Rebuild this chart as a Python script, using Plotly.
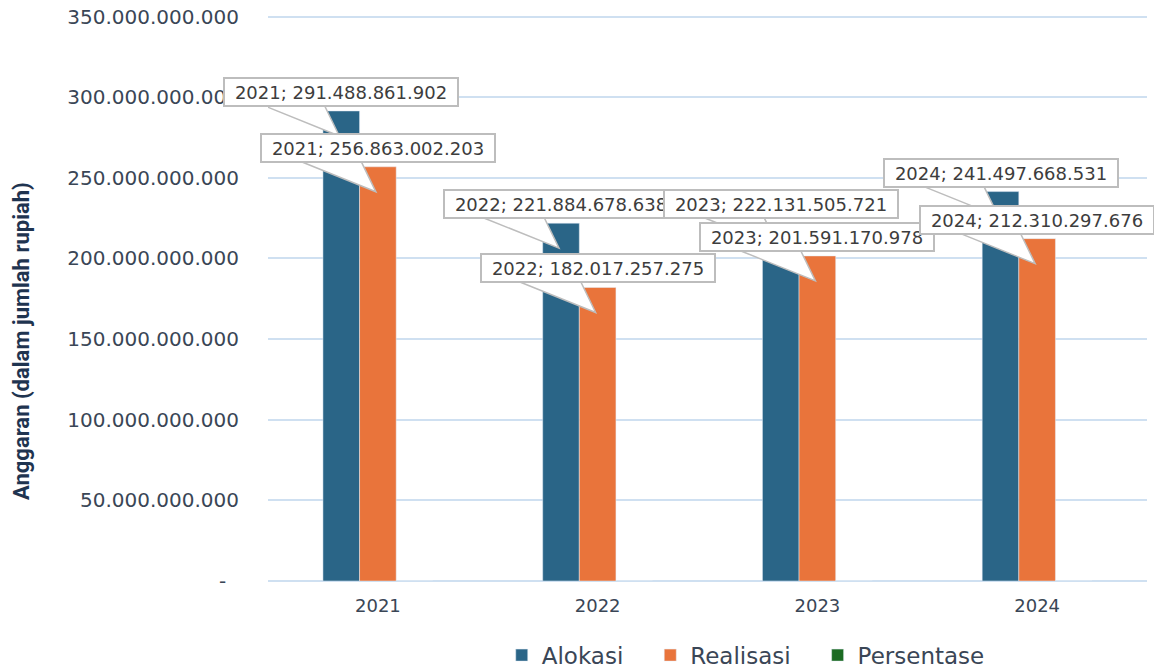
import plotly.graph_objects as go

# data
years = ["2021", "2022", "2023", "2024"]
alokasi = [291488861902, 221884678638, 222131505721, 241497668531]
realisasi = [256863002203, 182017257275, 201591170978, 212310297676]
persentase = [88.12, 82.03, 90.75, 87.91]
tick_vals = [0, 50e9, 100e9, 150e9, 200e9, 250e9, 300e9, 350e9]
tick_text = ["-\u00a0\u00a0", "50.000.000.000", "100.000.000.000", "150.000.000.000",
             "200.000.000.000", "250.000.000.000", "300.000.000.000", "350.000.000.000"]

BLUE = "#2a6587"
ORANGE = "#e9743b"
GREEN = "#1b6b22"
TXT = "#3a4656"
GAP = 0.5
bw = (1 - GAP) / 3  # width of one bar in category units
PAD = "\u00a0\u00a0\u00a0"  # extra room after legend names


def fmt(v):
    return f"{v:,}".replace(",", ".")


fig = go.Figure()
fig.add_trace(go.Bar(x=years, y=alokasi, name="Alokasi" + PAD, marker_color=BLUE))
fig.add_trace(go.Bar(x=years, y=realisasi, name="Realisasi" + PAD, marker_color=ORANGE))
fig.add_trace(go.Bar(x=years, y=persentase, name="Persentase", marker_color=GREEN))

# callouts: wedge shape + boxed label above each bar
for i, yr in enumerate(years):
    for off, vals in ((-bw, alokasi), (0, realisasi)):
        v = vals[i]
        fig.add_shape(type="path", xref="x", yref="y", xsizemode="pixel", ysizemode="pixel",
                      xanchor=i + off, yanchor=v,
                      path="M -79,6 L -2,-25 L -17,6 Z",
                      fillcolor="white", line=dict(color="#bdbdbd", width=1.5), layer="above")
        fig.add_annotation(x=i + off, y=v, ax=0, ay=-19, showarrow=True, arrowwidth=0.1,
                           arrowcolor="rgba(0,0,0,0)",
                           text=f"{yr}; {fmt(v)}", font=dict(family="DejaVu Sans", size=18, color="#3d3d3d"),
                           bgcolor="white", bordercolor="#bdbdbd", borderwidth=2, borderpad=2,
                           width=228, height=22)

# y-axis title placed as rotated text (sits below the axis middle in the original)
fig.add_annotation(xref="paper", yref="paper", x=-0.281, y=0.424, showarrow=False,
                   text="<b>Anggaran (dalam jumlah rupiah)</b>", textangle=-90,
                   xanchor="center", yanchor="middle",
                   font=dict(family="Roboto", size=22, color="#1f3450"))

fig.update_layout(
    width=1154, height=668,
    margin=dict(l=268, r=7, t=15, b=87, autoexpand=False),
    paper_bgcolor="white", plot_bgcolor="white",
    barmode="group", bargap=GAP, bargroupgap=0,
    font=dict(family="DejaVu Sans", color=TXT),
    legend=dict(orientation="h", x=0.5435, xanchor="center", y=-0.131, yanchor="middle",
                font=dict(size=23, color=TXT), itemwidth=30, traceorder="normal"),
    xaxis=dict(type="category", range=[-0.5, 3.5], tickfont=dict(size=18, color=TXT),
               showgrid=False, showline=False, ticks="", ticklabelstandoff=12, automargin=False),
    yaxis=dict(range=[0, 351e9], tickvals=tick_vals, ticktext=tick_text,
               tickfont=dict(size=20, color=TXT), gridcolor="#cfe0f1", gridwidth=1.5,
               zeroline=True, zerolinecolor="#cfe0f1", zerolinewidth=2,
               ticklabelstandoff=28, ticklabeloverflow="allow", automargin=False),
)

# drop the page's default body margin so the figure sits at the window corner
fig.write_html("out.html", config={"displayModeBar": False},
               post_script="document.body.style.margin='0';")
